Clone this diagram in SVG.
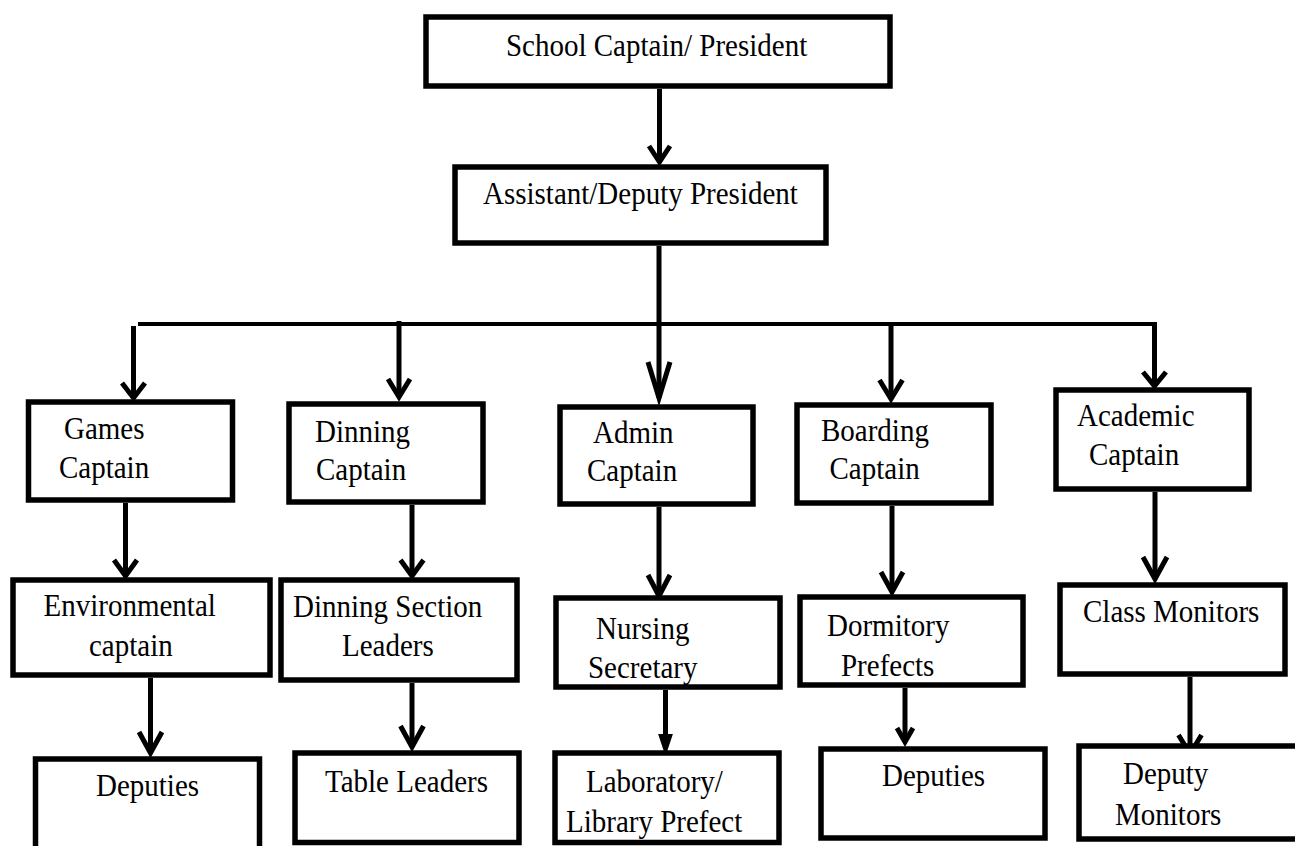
<svg xmlns="http://www.w3.org/2000/svg" width="1295" height="846" viewBox="0 0 1295 846">
<style>
.box{fill:#fff;stroke:#000;stroke-width:5.5}
.t{font-family:"Liberation Serif","Times New Roman",serif;font-size:29px;fill:#000;transform-box:fill-box;transform-origin:0 100%;transform:scaleY(1.09)}
.ln{stroke:#000;stroke-width:5;fill:none}
.bus{stroke:#000;stroke-width:4;fill:none}
.hd{stroke:#000;stroke-width:5;fill:none;stroke-linejoin:miter;stroke-linecap:butt}
.hf{fill:#000;stroke:#000;stroke-width:2}
</style>
<rect width="1295" height="846" fill="#fff"/>
<g id="connectors">
<line class="ln" x1="659.5" y1="89" x2="659.5" y2="161"/>
<polyline class="hd" points="649,146 659.5,162 670,146"/>
<line class="ln" x1="659" y1="246" x2="659" y2="398"/>
<polyline class="hd" points="648,362 659,398 670,362"/>
<line class="bus" x1="138" y1="324" x2="1156" y2="324"/>
<line class="ln" x1="133.5" y1="326" x2="133.5" y2="396"/>
<polyline class="hd" points="122,383 133.5,398 145,383"/>
<line class="ln" x1="399" y1="321" x2="399" y2="395"/>
<polyline class="hd" points="388,379 399,397 410,379"/>
<line class="ln" x1="891" y1="322" x2="891" y2="397"/>
<polyline class="hd" points="879.5,380 891,399 902.5,380"/>
<line class="ln" x1="1154.5" y1="322" x2="1154.5" y2="384"/>
<polyline class="hd" points="1143,372 1154.5,386 1166,372"/>
<line class="ln" x1="125.5" y1="503" x2="125.5" y2="574"/>
<polyline class="hd" points="114,560 125.5,576 137,560"/>
<line class="ln" x1="412" y1="505" x2="412" y2="574"/>
<polyline class="hd" points="400.5,560 412,576 423.5,560"/>
<line class="ln" x1="659" y1="507" x2="659" y2="594"/>
<polyline class="hd" points="648,575 659,596 670,575"/>
<line class="ln" x1="892" y1="506" x2="892" y2="590"/>
<polyline class="hd" points="881,572 892,592 903,572"/>
<line class="ln" x1="1155" y1="492" x2="1155" y2="577"/>
<polyline class="hd" points="1143,557 1155,579 1167,557"/>
<line class="ln" x1="150.5" y1="678" x2="150.5" y2="751"/>
<polyline class="hd" points="139,732 150.5,753 162,732"/>
<line class="ln" x1="412" y1="683" x2="412" y2="745"/>
<polyline class="hd" points="400.5,726 412,747 423.5,726"/>
<line class="ln" x1="665.5" y1="690" x2="665.5" y2="740"/>
<polygon class="hf" points="659.5,735 665.5,753 671.5,735"/>
<line class="ln" x1="905" y1="688" x2="905" y2="740"/>
<polyline class="hd" points="897,728 905,742 913,728"/>
<line class="ln" x1="1190" y1="677" x2="1190" y2="752"/>
<polyline class="hd" points="1178.5,735 1190,754 1201.5,735"/>
</g>
<g id="n-president"><rect class="box" x="426" y="17" width="464" height="69"/><text class="t" x="506" y="57">School Captain/ President</text></g>
<g id="n-deputy-president"><rect class="box" x="455" y="167" width="371" height="76"/><text class="t" x="483" y="205">Assistant/Deputy President</text></g>
<g id="n-games"><rect class="box" x="28.5" y="402" width="204" height="98"/><text class="t" x="64" y="440">Games</text><text class="t" x="59" y="479">Captain</text></g>
<g id="n-dinning"><rect class="box" x="289" y="404" width="194" height="98"/><text class="t" x="315" y="443">Dinning</text><text class="t" x="316" y="481">Captain</text></g>
<g id="n-admin"><rect class="box" x="560" y="407" width="193" height="97"/><text class="t" x="593" y="444">Admin</text><text class="t" x="587" y="482">Captain</text></g>
<g id="n-boarding"><rect class="box" x="797" y="405" width="194" height="98"/><text class="t" x="821" y="442">Boarding</text><text class="t" x="829.5" y="480">Captain</text></g>
<g id="n-academic"><rect class="box" x="1056" y="390" width="193" height="99"/><text class="t" x="1077" y="427">Academic</text><text class="t" x="1089" y="466">Captain</text></g>
<g id="n-environmental"><rect class="box" x="13" y="580" width="257" height="95"/><text class="t" x="43.5" y="617">Environmental</text><text class="t" x="89" y="657">captain</text></g>
<g id="n-dinning-section"><rect class="box" x="281" y="580" width="236" height="100"/><text class="t" x="293" y="618">Dinning Section</text><text class="t" x="342" y="657">Leaders</text></g>
<g id="n-nursing"><rect class="box" x="556" y="598" width="224" height="89"/><text class="t" x="596" y="640">Nursing</text><text class="t" x="588" y="679">Secretary</text></g>
<g id="n-dormitory"><rect class="box" x="800" y="597" width="223" height="88"/><text class="t" x="827" y="637">Dormitory</text><text class="t" x="841" y="677">Prefects</text></g>
<g id="n-class-monitors"><rect class="box" x="1060" y="585" width="225" height="89"/><text class="t" x="1083" y="623">Class Monitors</text></g>
<g id="n-deputies-1"><rect class="box" x="35.5" y="759" width="224" height="100"/><text class="t" x="96" y="797">Deputies</text></g>
<g id="n-table-leaders"><rect class="box" x="295" y="753" width="224" height="89.5"/><text class="t" x="325" y="793">Table Leaders</text></g>
<g id="n-lab-library"><rect class="box" x="555" y="753" width="224" height="89.5"/><text class="t" x="586" y="793">Laboratory/</text><text class="t" x="566" y="833">Library Prefect</text></g>
<g id="n-deputies-2"><rect class="box" x="821" y="749" width="224" height="89"/><text class="t" x="882" y="787">Deputies</text></g>
<g id="n-deputy-monitors"><rect class="box" x="1079" y="746" width="260" height="93"/><text class="t" x="1123" y="785">Deputy</text><text class="t" x="1115" y="826">Monitors</text></g>
</svg>
